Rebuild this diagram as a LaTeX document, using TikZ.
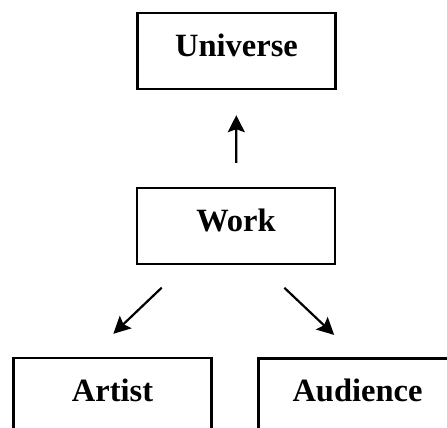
\documentclass[tikz,border=0pt]{standalone}
\usepackage{fontspec}
\setmainfont{Liberation Serif}
\usetikzlibrary{arrows.meta}
\tikzset{
  box/.style={draw=black, line width=2.2pt, rectangle, inner sep=0pt,
    minimum width=198pt, text height=43pt, text depth=33pt,
    font=\fontsize{32.5pt}{36pt}\selectfont\bfseries},
  lowbox/.style={box, text depth=80pt, anchor=north},
  conn/.style={draw=black, line width=2.2pt, -{Stealth[length=17pt, width=17pt, inset=3pt]}}
}
\begin{document}
\begin{tikzpicture}[x=1pt,y=1pt]
\useasboundingbox (0,0) rectangle (447,428);
\clip (0,0) rectangle (447,428);
\node[box, anchor=north] (univ) at (236.5,416) {Universe};
\node[box, anchor=north] (work) at (236,241) {Work};
\node[lowbox] (artist) at (112.5,71) {Artist};
\node[lowbox] (aud) at (357.5,70.5) {Audience};
\draw[conn, shorten <=24pt, shorten >=25pt] (work) -- (univ);
\draw[conn, shorten <=32.6pt, shorten >=33.6pt] ([xshift=-50.7pt]work.south) -- ([xshift=-23.5pt]artist.north);
\draw[conn, shorten <=32.8pt, shorten >=32.8pt] ([xshift=24.5pt]work.south) -- ([xshift=0.5pt]aud.north);
\end{tikzpicture}
\end{document}
